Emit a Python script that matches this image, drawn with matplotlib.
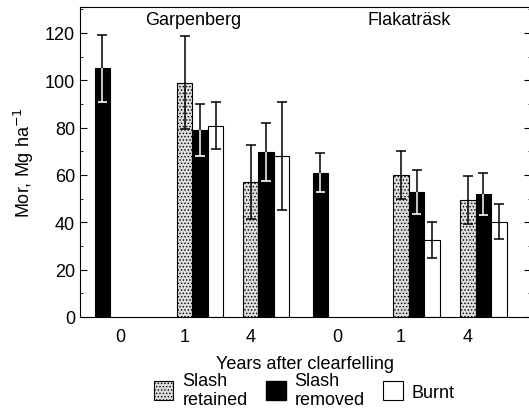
import numpy as np
import matplotlib.pyplot as plt
from matplotlib.patches import Patch
from matplotlib.ticker import MultipleLocator

plt.rcParams['font.family'] = ['Liberation Sans', 'DejaVu Sans']
plt.rcParams['hatch.color'] = '#8a8a8a'
plt.rcParams['hatch.linewidth'] = 0.6

# Data (Mg ha-1)
# groups: Garpenberg 0,1,4 ; Flakatrask 0,1,4
year_labels = ['0', '1', '4', '0', '1', '4']
treatments = ['Slash\nretained', 'Slash\nremoved', 'Burnt']

retained = [np.nan, 99, 57, np.nan, 60, 49.5]
retained_err = [0, 19.5, 15.7, 0, 10.3, 10.2]
removed = [105, 79, 69.7, 61, 52.7, 52]
removed_err = [14, 11, 12.2, 8.4, 9.2, 9]
burnt = [np.nan, 80.8, 68, np.nan, 32.5, 40.3]
burnt_err = [0, 10, 23, 0, 7.6, 7.3]

# layout (units of bar width)
group_pos = np.array([1.45, 7.75, 12.0, 15.5, 21.7, 26.0])
tick_pos = [2.6, 6.75, 11.0, 16.6, 20.65, 25.0]
w = 1.0
fs = 13

fig = plt.figure(figsize=(5.29, 4.14), dpi=100)
ax = fig.add_axes([0.151, 0.232, 0.852, 0.749])

series = [
    (retained, retained_err, -w, dict(facecolor='#dcdcdc', hatch='.....')),
    (removed, removed_err, 0, dict(facecolor='black')),
    (burnt, burnt_err, w, dict(facecolor='white')),
]

for vals, errs, off, style in series:
    vals = np.array(vals, dtype=float)
    errs = np.array(errs, dtype=float)
    ok = ~np.isnan(vals)
    x = group_pos[ok] + off
    ax.bar(x, vals[ok], width=w, edgecolor='black', linewidth=0.8, **style)
    ax.errorbar(x, vals[ok], yerr=errs[ok], fmt='none', ecolor='black',
                elinewidth=1.1, capsize=3.5, capthick=1.1)
    if style['facecolor'] == 'black':
        # lower part of the error bar is white inside the black bar
        ax.vlines(x, vals[ok] - errs[ok], vals[ok], color='white', lw=1.1, zorder=3)
        ax.hlines(vals[ok] - errs[ok], x - 0.3, x + 0.3, color='white', lw=1.2, zorder=3)

ax.set_xlim(0, 29.05)
ax.set_ylim(0, 131)
ax.set_xticks(tick_pos)
ax.set_xticklabels(year_labels, fontsize=fs)
ax.tick_params(axis='x', length=0, pad=8)
ax.yaxis.set_major_locator(MultipleLocator(20))
ax.yaxis.set_minor_locator(MultipleLocator(10))
ax.tick_params(axis='y', which='both', direction='in', right=True, labelsize=fs)
ax.tick_params(axis='y', which='major', length=5)
ax.tick_params(axis='y', which='minor', length=2.5)
ax.set_ylabel('Mor, Mg ha$^{-1}$', fontsize=fs, labelpad=6)
ax.set_xlabel('Years after clearfelling', fontsize=fs, labelpad=7)

ax.text(7.3, 125.5, 'Garpenberg', ha='center', va='center', fontsize=fs)
ax.text(21.2, 125.5, 'Flakaträsk', ha='center', va='center', fontsize=fs)

handles = [Patch(facecolor='#dcdcdc', hatch='.....', edgecolor='black', lw=0.8),
           Patch(facecolor='black', edgecolor='black'),
           Patch(facecolor='white', edgecolor='black', lw=0.8)]
fig.legend(handles, treatments, ncol=3, loc='lower center',
           bbox_to_anchor=(0.575, -0.028), frameon=False, fontsize=fs,
           handlelength=1.1, handleheight=1.3, handletextpad=0.5,
           columnspacing=1.0, labelspacing=0.0)

fig.savefig('out.png', dpi=100)
